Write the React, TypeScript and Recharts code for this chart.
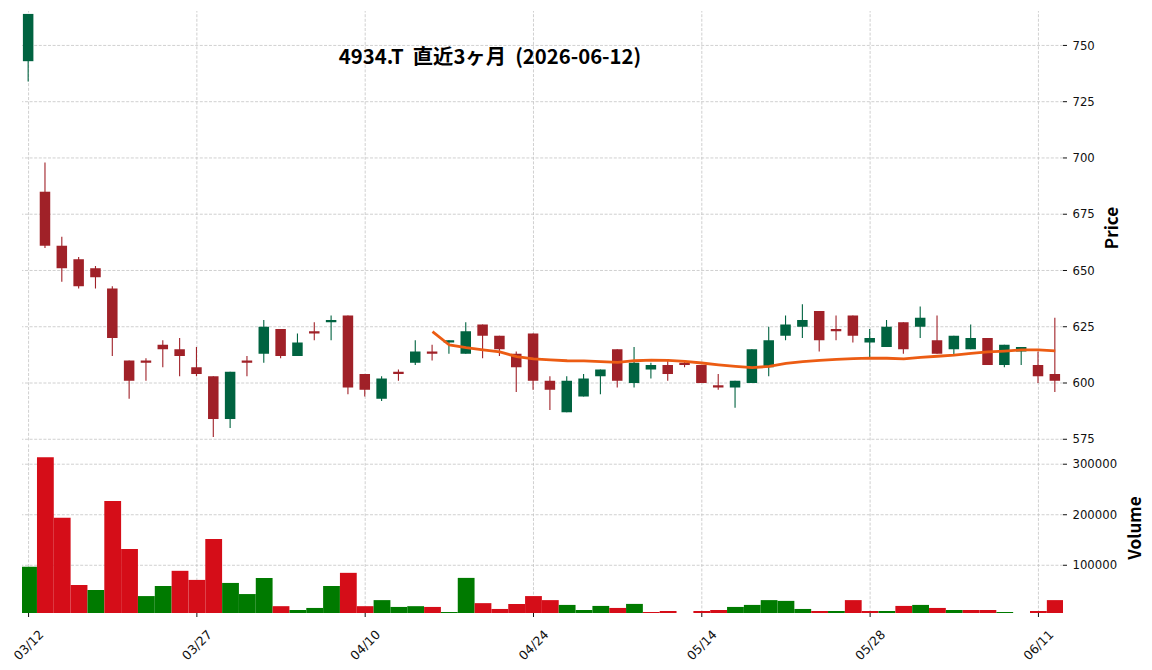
import React from 'react';
import { Bar, Cell, ComposedChart, Line, ReferenceLine, XAxis, YAxis } from 'recharts';

const TITLE = '4934.T  直近3ヶ月  (2026-06-12)';

const dates = [
  '03/12', '03/13', '03/16', '03/17', '03/18', '03/19', '03/23', '03/24', '03/25', '03/26',
  '03/27', '03/30', '03/31', '04/01', '04/02', '04/03', '04/06', '04/07', '04/08', '04/09',
  '04/10', '04/13', '04/14', '04/15', '04/16', '04/17', '04/20', '04/21', '04/22', '04/23',
  '04/24', '04/27', '04/28', '04/30', '05/01', '05/07', '05/08', '05/11', '05/12', '05/13',
  '05/14', '05/15', '05/18', '05/19', '05/20', '05/21', '05/22', '05/25', '05/26', '05/27',
  '05/28', '05/29', '06/01', '06/02', '06/03', '06/04', '06/05', '06/08', '06/09', '06/10',
  '06/11', '06/12',
];

const opens = [
  743, 685, 661, 655, 651, 642, 610, 610, 617, 615,
  607, 603, 584, 610, 613, 624, 612, 623, 627, 630,
  604, 593, 605, 609, 614, 618, 613, 626, 621, 613,
  622, 601, 587, 594, 603, 615, 600, 606, 608, 609,
  608, 599, 598, 600, 607, 621, 625, 632, 624, 630,
  618, 616, 627, 625, 619, 615, 615, 620, 608, 614,
  608, 604,
];
const highs = [
  764, 698, 665, 656, 652, 643, 610, 611, 619, 620,
  616, 603, 605, 612, 628, 624, 622, 627, 630, 630,
  604, 603, 606, 619, 617, 619, 627, 626, 621, 614,
  622, 603, 603, 604, 606, 615, 616, 609, 610, 610,
  608, 604, 601, 615, 625, 630, 635, 632, 630, 630,
  624, 628, 627, 634, 630, 621, 626, 620, 617, 616,
  614, 629,
];
const lows = [
  734, 660, 645, 642, 642, 612, 593, 601, 607, 603,
  603, 576, 580, 603, 609, 611, 612, 619, 619, 595,
  594, 592, 601, 608, 610, 613, 613, 611, 612, 596,
  597, 588, 587, 594, 595, 598, 598, 602, 601, 607,
  600, 597, 589, 600, 603, 619, 620, 614, 619, 618,
  611, 616, 613, 620, 613, 612, 615, 608, 607, 608,
  600, 596,
];
const closes = [
  764, 661, 651, 643, 647, 620, 601, 609, 615, 612,
  604, 584, 605, 609, 625, 612, 618, 622, 628, 598,
  597, 602, 604, 614, 613, 619, 623, 621, 615, 607,
  601, 597, 601, 602, 606, 601, 609, 608, 604, 608,
  600, 598, 601, 615, 619, 626, 628, 619, 623, 621,
  620, 625, 615, 629, 613, 621, 620, 608, 617, 616,
  603, 601,
];
const volumes = [
  97000, 314000, 194000, 61000, 51000, 227000, 132000, 39000, 59000, 89000,
  71000, 152000, 65000, 43000, 75000, 19000, 11500, 15500, 59000, 85000,
  19000, 31000, 17500, 19000, 17500, 7500, 75000, 25000, 13500, 23500,
  39000, 31000, 21500, 11500, 19500, 15500, 23500, 7500, 9500, 5500,
  9500, 11500, 17500, 21500, 31000, 29500, 13500, 9500, 9500, 31000,
  9500, 9500, 19500, 21500, 15500, 11500, 11500, 11500, 7500, 5500,
  9500, 31000,
];
// 25-day moving average, first value on 04/16
const MA_START = 24;
const ma25 = [
  622.8, 616.9, 615.7, 614.7, 613.8, 611.7, 610.7, 610.3, 609.9, 609.8,
  609.5, 609.2, 609.9, 610.2, 610.1, 609.6, 608.9, 608.1, 607.4, 606.8,
  607.4, 608.7, 609.5, 610.1, 610.5, 610.8, 611.1, 611.0, 610.7, 611.4,
  611.9, 612.4, 613.2, 613.8, 614.2, 614.7, 614.7, 614.3,
];

const xTicks = [0, 10, 20, 30, 40, 50, 60];
const priceTicks = [575, 600, 625, 650, 675, 700, 725, 750];
const volumeTicks = [100000, 200000, 300000];

const UP = '#006340';
const DOWN = '#a02128';
const VOL_UP = '#007a00';
const VOL_DOWN = '#d50d18';
const MA_COLOR = '#ec5c13';
const GRID = '#c4c4c4';
const TICK_FONT = 'DejaVu Sans';
const LABEL_FONT = '"Noto Sans CJK JP", "Noto Sans", sans-serif';

const rows = dates.map((date, i) => ({
  i,
  date,
  open: opens[i],
  high: highs[i],
  low: lows[i],
  close: closes[i],
  range: [lows[i], highs[i]],
  vol: volumes[i],
  volUp: i === 0 ? true : closes[i] >= closes[i - 1],
  ma: i >= MA_START ? ma25[i - MA_START] : null,
}));

const X_DOMAIN: [number, number] = [-0.39, 61.46];
const PRICE_DOMAIN: [number, number] = [574.5, 765.3];
const VOLUME_DOMAIN: [number, number] = [5500, 342000];

const PRICE_BOX = { width: 1152, height: 450, margin: { top: 11, right: 0, bottom: 9.6, left: 22 } };
const VOLUME_BOX = { width: 1152, height: 227, margin: { top: 0, right: 0, bottom: 0, left: 22 } };

const Candle = (props: any) => {
  const { x, y, width, height, payload } = props;
  if (payload == null || height == null) return null;
  const { open, close, high, low } = payload;
  const top = Math.min(y, y + height);
  const h = Math.abs(height);
  const k = h / (high - low);
  const cx = x + width / 2;
  const bodyTop = top + (high - Math.max(open, close)) * k;
  const bodyBot = top + (high - Math.min(open, close)) * k;
  const color = close >= open ? UP : DOWN;
  return (
    <g>
      <line x1={cx} x2={cx} y1={top} y2={top + h} stroke={color} strokeWidth={1.1} />
      <rect x={cx - 5.25} y={bodyTop} width={10.5} height={Math.max(bodyBot - bodyTop, 1)} fill={color} />
    </g>
  );
};

const DateTick = (props: any) => {
  const { x, y, payload } = props;
  const cy = y + 26;
  return (
    <text
      x={x}
      y={cy}
      textAnchor="middle"
      dominantBaseline="central"
      transform={`rotate(-45, ${x}, ${cy})`}
      fontFamily={TICK_FONT}
      fontSize={12.5}
      fill="#111"
    >
      {dates[payload.value]}
    </text>
  );
};

const tickStyle = { fill: '#111', fontSize: 11.7, fontFamily: TICK_FONT };
const gridStyle = { stroke: GRID, strokeDasharray: '3 1.6', strokeWidth: 0.8 };

const layer: React.CSSProperties = { position: 'absolute', left: 0, top: 0 };

// Back layer: only the dashed grid, so that bars and candles sit on top of it
const GridLayer = ({ box, yDomain, yTicks, xAxisHeight }: any) => (
  <div style={layer}>
    <ComposedChart width={box.width} height={box.height} data={rows} margin={box.margin}>
      <XAxis
        dataKey="i"
        type="number"
        domain={X_DOMAIN}
        allowDataOverflow
        height={xAxisHeight}
        hide={xAxisHeight === 0}
        tick={false}
        tickLine={false}
        axisLine={false}
      />
      <YAxis orientation="right" width={89} domain={yDomain} allowDataOverflow tick={false} tickLine={false} axisLine={false} />
      {xTicks.map((t) => (
        <ReferenceLine key={`gx${t}`} x={t} {...gridStyle} />
      ))}
      {yTicks.map((t: number) => (
        <ReferenceLine key={`gy${t}`} y={t} {...gridStyle} />
      ))}
    </ComposedChart>
  </div>
);

export default function App() {
  return (
    <div style={{ position: 'absolute', left: 0, top: 0, width: 1152, height: 670, background: '#fff' }}>
      <div style={{ position: 'absolute', left: 0, top: 443, width: 1152, height: 227 }}>
        <GridLayer box={VOLUME_BOX} yDomain={VOLUME_DOMAIN} yTicks={volumeTicks} xAxisHeight={57} />
        <div style={layer}>
          <ComposedChart width={VOLUME_BOX.width} height={VOLUME_BOX.height} data={rows} margin={VOLUME_BOX.margin}>
            <XAxis
              dataKey="i"
              type="number"
              domain={X_DOMAIN}
              ticks={xTicks}
              interval={0}
              allowDataOverflow
              axisLine={false}
              tickLine={{ stroke: '#111' }}
              tickSize={4}
              height={57}
              tick={<DateTick />}
            />
            <YAxis
              orientation="right"
              width={89}
              domain={VOLUME_DOMAIN}
              allowDataOverflow
              ticks={volumeTicks}
              axisLine={false}
              tickLine={{ stroke: '#111' }}
              tickSize={4}
              tickMargin={5.5}
              tick={tickStyle}
              tickFormatter={(v: number) => String(v)}
            />
            <Bar dataKey="vol" barSize={16.8} isAnimationActive={false}>
              {rows.map((r) => (
                <Cell key={r.i} fill={r.volUp ? VOL_UP : VOL_DOWN} />
              ))}
            </Bar>
          </ComposedChart>
        </div>
      </div>
      <div style={{ position: 'absolute', left: 0, top: 0, width: 1152, height: 450 }}>
        <GridLayer box={PRICE_BOX} yDomain={PRICE_DOMAIN} yTicks={priceTicks} xAxisHeight={0} />
        <div style={layer}>
          <ComposedChart width={PRICE_BOX.width} height={PRICE_BOX.height} data={rows} margin={PRICE_BOX.margin}>
            <XAxis dataKey="i" type="number" domain={X_DOMAIN} ticks={xTicks} interval={0} allowDataOverflow hide />
            <YAxis
              orientation="right"
              width={89}
              domain={PRICE_DOMAIN}
              allowDataOverflow
              ticks={priceTicks}
              axisLine={false}
              tickLine={{ stroke: '#111' }}
              tickSize={4}
              tickMargin={5.5}
              tick={tickStyle}
            />
            <Bar dataKey="range" barSize={10} shape={<Candle />} isAnimationActive={false} />
            <Line
              dataKey="ma"
              type="linear"
              stroke={MA_COLOR}
              strokeWidth={2.8}
              dot={false}
              activeDot={false}
              isAnimationActive={false}
            />
          </ComposedChart>
        </div>
      </div>
      <svg width={1152} height={670} style={{ position: 'absolute', left: 0, top: 0, pointerEvents: 'none' }}>
        <text
          x={490}
          y={64}
          textAnchor="middle"
          fontFamily={LABEL_FONT}
          fontWeight={700}
          fontSize={20.3}
          fill="#000"
          style={{ whiteSpace: 'pre' }}
        >
          {TITLE}
        </text>
        <text
          x={1110}
          y={228}
          textAnchor="middle"
          dominantBaseline="central"
          transform="rotate(-90, 1110, 228)"
          fontFamily={LABEL_FONT}
          fontWeight={700}
          fontSize={17}
          fill="#000"
        >
          Price
        </text>
        <text
          x={1133}
          y={528}
          textAnchor="middle"
          dominantBaseline="central"
          transform="rotate(-90, 1133, 528)"
          fontFamily={LABEL_FONT}
          fontWeight={700}
          fontSize={17}
          fill="#000"
        >
          Volume
        </text>
      </svg>
    </div>
  );
}
